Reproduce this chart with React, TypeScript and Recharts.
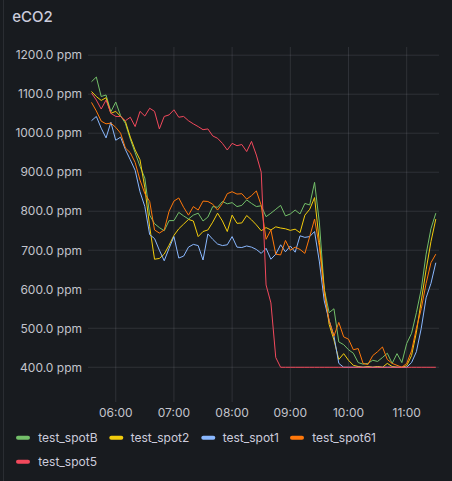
import React from 'react';
import { LineChart, Line, XAxis, YAxis, CartesianGrid } from 'recharts';

const timeLabels = [
  '05:35','05:40','05:45','05:50','05:55','06:00','06:05','06:10','06:15','06:20','06:25','06:30',
  '06:35','06:40','06:45','06:50','06:55','07:00','07:05','07:10','07:15','07:20','07:25','07:30',
  '07:35','07:40','07:45','07:50','07:55','08:00','08:05','08:10','08:15','08:20','08:25','08:30',
  '08:35','08:40','08:45','08:50','08:55','09:00','09:05','09:10','09:15','09:20','09:25','09:30',
  '09:35','09:40','09:45','09:50','09:55','10:00','10:05','10:10','10:15','10:20','10:25','10:30',
  '10:35','10:40','10:45','10:50','10:55','11:00','11:05','11:10','11:15','11:20','11:25','11:30',
];

const spotB = [
  1132,1144,1094,1098,1055,1080,1045,1025,985,950,915,885,790,768,758,750,776,776,797,788,780,790,795,775,
  785,812,810,825,819,822,812,815,829,820,812,814,786,795,805,815,788,793,803,793,820,816,874,
  770,600,540,550,465,458,445,436,412,408,410,418,415,425,436,410,435,412,461,487,540,600,690,755,795,
];

const spot2 = [
  1107,1094,1084,1091,1051,1056,1043,1030,990,957,932,860,760,677,679,690,713,738,755,767,779,775,735,748,
  752,772,795,775,748,790,769,770,789,778,765,750,758,752,760,757,755,751,754,745,790,805,835,
  720,600,510,470,420,435,418,405,402,400,402,400,402,400,410,402,400,400,404,430,490,570,650,722,780,
];

const spot1 = [
  1032,1043,1013,988,1028,982,990,958,932,905,850,812,740,730,700,673,705,735,680,685,708,715,712,675,
  742,728,716,712,714,735,708,707,711,708,702,692,705,677,690,714,696,711,695,737,733,735,748,
  670,570,520,480,410,400,400,400,400,400,400,400,400,400,400,400,400,400,400,412,440,500,578,615,668,
];

const spot61 = [
  1079,1057,1031,1024,1026,1015,1000,962,950,925,880,845,825,752,744,752,800,826,834,810,790,812,803,826,
  825,818,803,820,845,850,844,845,831,840,852,815,728,752,690,688,725,700,708,702,692,735,780,
  709,590,520,480,515,478,472,445,448,410,407,430,440,452,420,410,405,400,410,442,500,550,615,668,690,
];

const spot5 = [
  1103,1085,1062,1085,1051,1043,1043,1032,1041,1017,1056,1044,1064,1056,1011,1043,1047,1060,1041,1043,1032,1024,1017,1009,
  1011,993,987,974,957,974,968,971,953,979,944,900,611,565,425,400,400,400,400,400,400,400,400,
  400,400,400,400,400,400,400,400,400,400,400,400,400,400,400,400,400,400,400,400,400,400,400,400,400,
];

const xTickLabels = ['06:00', '07:00', '08:00', '09:00', '10:00', '11:00'];
const yTicks = [400, 500, 600, 700, 800, 900, 1000, 1100, 1200];

const seriesDefs = [
  { key: 'spotB', name: 'test_spotB', color: '#73BF69', values: spotB },
  { key: 'spot2', name: 'test_spot2', color: '#F2CC0C', values: spot2 },
  { key: 'spot1', name: 'test_spot1', color: '#8AB8FF', values: spot1 },
  { key: 'spot61', name: 'test_spot61', color: '#FF780A', values: spot61 },
  { key: 'spot5', name: 'test_spot5', color: '#F2495C', values: spot5 },
];

const toMin = (s: string) => {
  const [h, m] = s.split(':').map(Number);
  return h * 60 + m;
};
const fmtTime = (v: number) => {
  const h = Math.floor(v / 60);
  const m = Math.round(v - h * 60);
  return `${String(h).padStart(2, '0')}:${String(m).padStart(2, '0')}`;
};

const data = timeLabels.map((t, i) => {
  const row: Record<string, number> = { t: toMin(t) };
  seriesDefs.forEach((s) => {
    row[s.key] = s.values[i];
  });
  return row;
});

const legendPos = [
  { x: 16, tx: 38.3, y: 437.8 },
  { x: 109.3, tx: 130.7, y: 437.8 },
  { x: 201.3, tx: 222.7, y: 437.8 },
  { x: 290, tx: 312.3, y: 437.8 },
  { x: 16, tx: 38.3, y: 461.8 },
];

const axisText = '#c3c4cc';

export default function App() {
  return (
    <div
      style={{
        position: 'absolute',
        left: 0,
        top: 0,
        width: 452,
        height: 481,
        background: '#181b1f',
        overflow: 'hidden',
        fontFamily: 'Inter, sans-serif',
      }}
    >
      <LineChart
        width={452}
        height={425}
        data={data}
        margin={{ top: 47, right: 13, left: 8, bottom: 0 }}
      >
        <CartesianGrid stroke="rgba(204,204,220,0.13)" strokeWidth={1} syncWithTicks />
        <XAxis
          dataKey="t"
          type="number"
          domain={[331.4, 693.3]}
          ticks={xTickLabels.map(toMin)}
          tickFormatter={fmtTime}
          allowDataOverflow
          height={23}
          tickLine={false}
          axisLine={false}
          tickSize={0}
          tickMargin={6}
          tick={{ fill: axisText, fontSize: 12, fontFamily: 'Inter' }}
        />
        <YAxis
          type="number"
          domain={[311, 1221]}
          ticks={yTicks}
          allowDataOverflow
          width={80}
          tickLine={false}
          axisLine={false}
          tickSize={0}
          tickMargin={6}
          tickFormatter={(v: number) => `${v.toFixed(1)} ppm`}
          tick={{ fill: axisText, fontSize: 12, fontFamily: 'Inter' }}
        />
        {seriesDefs.map((s) => (
          <Line
            key={s.key}
            dataKey={s.key}
            name={s.name}
            stroke={s.color}
            strokeWidth={1}
            dot={false}
            activeDot={false}
            type="linear"
            isAnimationActive={false}
          />
        ))}
      </LineChart>
      <svg
        width={452}
        height={481}
        style={{ position: 'absolute', left: 0, top: 0, pointerEvents: 'none' }}
      >
        <line x1={3.5} y1={0} x2={3.5} y2={481} stroke="#2a2d32" strokeWidth={1} />
        <text x={12.3} y={21.7} fontSize={15} fontWeight={500} fill="#ccccdc" fontFamily="Inter">
          eCO2
        </text>
        {seriesDefs.map((s, i) => (
          <g key={s.key}>
            <rect x={legendPos[i].x} y={legendPos[i].y - 2} width={14} height={4} rx={2} fill={s.color} />
            <text x={legendPos[i].tx} y={legendPos[i].y + 4.3} fontSize={12} fill="#ccccdc" fontFamily="Inter">
              {s.name}
            </text>
          </g>
        ))}
      </svg>
    </div>
  );
}
